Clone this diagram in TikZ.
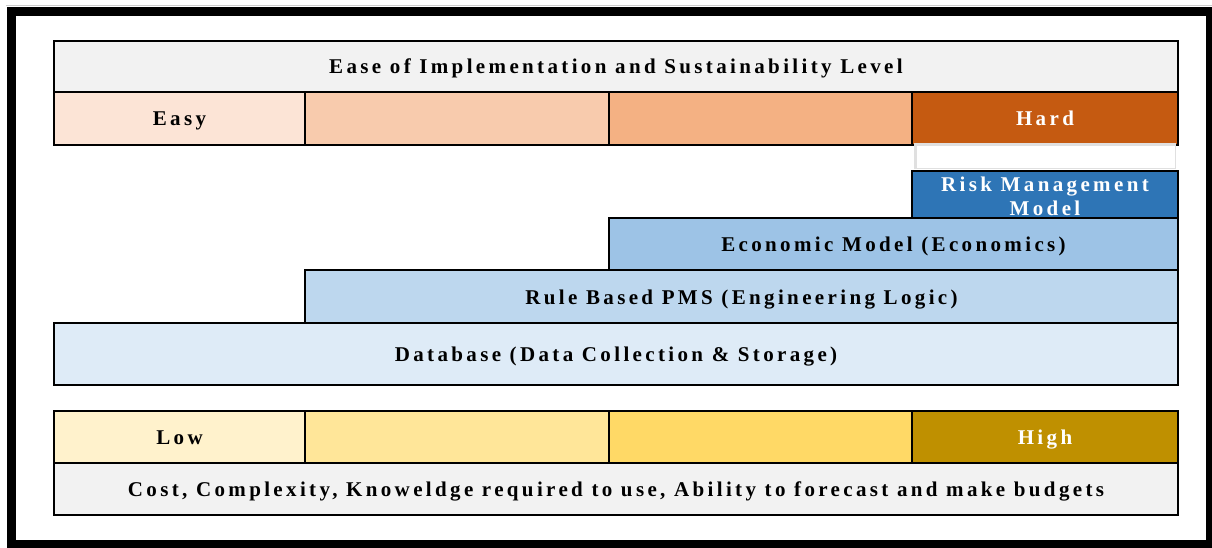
\documentclass[tikz,border=0pt]{standalone}
\usepackage{fontspec}
\setmainfont{Liberation Serif}[LetterSpace=16]
\usepackage{tikz}
\usetikzlibrary{positioning}
\definecolor{headc}{HTML}{F2F2F2}
\definecolor{easyc}{HTML}{FCE4D6}
\definecolor{midac}{HTML}{F8CBAD}
\definecolor{midbc}{HTML}{F4B183}
\definecolor{hardc}{HTML}{C55A11}
\definecolor{riskc}{HTML}{2E75B6}
\definecolor{econc}{HTML}{9DC3E6}
\definecolor{rulec}{HTML}{BDD7EE}
\definecolor{datac}{HTML}{DEEBF7}
\definecolor{lowc}{HTML}{FFF2CC}
\definecolor{lowbc}{HTML}{FFE699}
\definecolor{lowcc}{HTML}{FFD966}
\definecolor{highc}{HTML}{BF9000}
\tikzset{%
   cell/.style={
      draw=black,
      line width=1.8pt,
      inner sep=0pt,
      align=center,
      text height=15pt,
      text depth=0pt,
      font=\fontsize{21}{24}\selectfont\bfseries
   },
   light/.style={
      text=white
   },
}

\begin{document}
\begin{tikzpicture}[x=1pt, y=-1pt]
   \useasboundingbox (0,0) rectangle (1212,548);
   \fill[white] (0,0) rectangle (1212,548);
   \draw[black!20, line width=1pt] (6,6) -- (1212,6);
   \draw[line width=9pt] (11,11.5) rectangle (1210,544);

   % ease scale
   \node[cell, fill=headc, minimum width=1124pt, minimum height=51pt] (ease) at (616,66.5)
      {Ease of Implementation and Sustainability Level};
   \node[cell, fill=easyc, minimum width=251pt, minimum height=53pt] (easy) at (179.5,118.5) {Easy};
   \node[cell, fill=midac, minimum width=304pt, minimum height=53pt] (easyb) at (457,118.5) {};
   \node[cell, fill=midbc, minimum width=303pt, minimum height=53pt] (easyc) at (760.5,118.5) {};
   \node[cell, light, fill=hardc, minimum width=266pt, minimum height=53pt] (hard) at (1045,118.5) {Hard};

   % blank box over the top model
   \fill[black!12] (914,143) rectangle (1176,169);
   \fill[white] (917,146) rectangle (1175,168);

   % model levels
   \node[cell, light, fill=riskc, minimum width=266pt, minimum height=47pt,
         text height=41pt, text depth=0pt] (risk) at (1045,194.5)
      {Risk Management\\Model};
   \node[cell, fill=econc, minimum width=569pt, minimum height=52pt] (econ) at (893.5,244)
      {Economic Model (Economics)};
   \node[cell, fill=rulec, minimum width=873pt, minimum height=53pt] (rule) at (741.5,296.5)
      {Rule Based PMS (Engineering Logic)};
   \node[cell, fill=datac, minimum width=1124pt, minimum height=62pt] (data) at (616,354)
      {Database (Data Collection \& Storage)};

   % cost scale
   \node[cell, fill=lowc, minimum width=251pt, minimum height=52pt] (low) at (179.5,437) {Low};
   \node[cell, fill=lowbc, minimum width=304pt, minimum height=52pt] (lowb) at (457,437) {};
   \node[cell, fill=lowcc, minimum width=303pt, minimum height=52pt] (lowc) at (760.5,437) {};
   \node[cell, light, fill=highc, minimum width=266pt, minimum height=52pt] (high) at (1045,437) {High};
   \node[cell, fill=headc, minimum width=1124pt, minimum height=52pt] (cost) at (616,489)
      {Cost, Complexity, Knoweldge required to use, Ability to forecast and make budgets};
\end{tikzpicture}
\end{document}
